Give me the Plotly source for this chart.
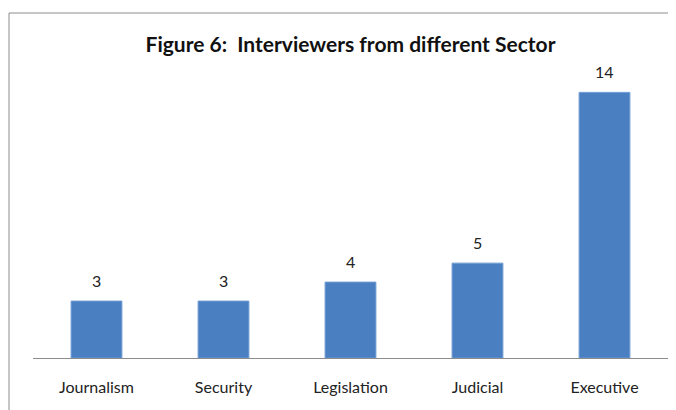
import plotly.graph_objects as go

categories = ["Journalism", "Security", "Legislation", "Judicial", "Executive"]
values = [3, 3, 4, 5, 14]

W, H = 676, 410
# page body adds an 8px offset; figure coordinates are shifted accordingly
L, R, T, B = 25, 16, 73, 60
pw, ph = W - L - R, H - T - B

fig = go.Figure(go.Bar(
    x=categories, y=values, width=0.4,
    marker=dict(color="#4a7fc1", line=dict(color="#6e9bd3", width=1)),
))

for c, v in zip(categories, values):
    fig.add_annotation(x=c, y=v, text=str(v), showarrow=False,
                       yanchor="bottom", yshift=9,
                       font=dict(size=16, color="#222222", family="Lato"))

def px_to_paper_x(px):
    return (px - L) / pw

def px_to_paper_y(py):
    return (H - B - py) / ph

fig.update_layout(
    width=W, height=H,
    margin=dict(l=L, r=R, t=T, b=B),
    plot_bgcolor="white", paper_bgcolor="white",
    title=dict(text="<b>Figure 6:  Interviewers from different Sector</b>",
               x=0.5, xref="paper", xanchor="center", y=1 - 37 / H, yanchor="middle",
               font=dict(size=21, color="#111111", family="Lato")),
    xaxis=dict(showline=True, linecolor="#8c8c8c", linewidth=1,
               ticks="", ticklabelstandoff=15,
               tickfont=dict(size=16, color="#222222", family="Lato"),
               showgrid=False),
    yaxis=dict(range=[0, 14.6], visible=False, showgrid=False),
    showlegend=False,
    shapes=[dict(type="rect", xref="paper", yref="paper",
                 x0=px_to_paper_x(1), x1=px_to_paper_x(700),
                 y0=px_to_paper_y(430), y1=px_to_paper_y(5),
                 line=dict(color="#8c8c8c", width=1), layer="below")],
)

fig.write_html("out.html")
